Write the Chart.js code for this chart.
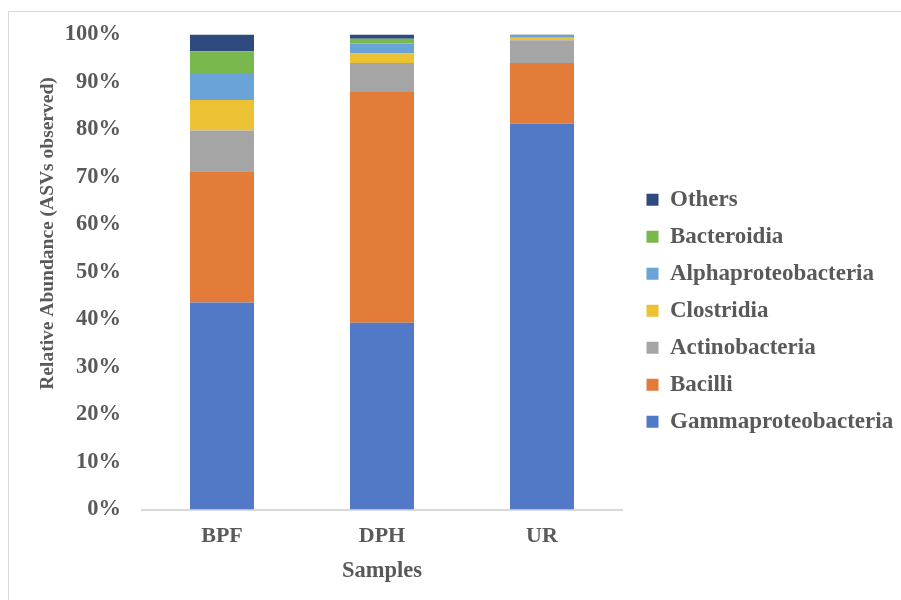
<!DOCTYPE html>
<html>
<head>
<meta charset="utf-8">
<script src="https://cdn.jsdelivr.net/npm/chart.js@4/dist/chart.umd.min.js"></script>
<style>
  html, body { margin: 0; padding: 0; background: #ffffff; }
  #wrap { width: 901px; height: 600px; position: relative; }
</style>
</head>
<body>
<div id="wrap"><canvas id="chart" width="901" height="600"></canvas></div>
<script>
// Sample sites
const samples = ['BPF', 'DPH', 'UR'];

// Relative abundance (%) of each class per sample
const gammaproteobacteria = [43.6, 39.3, 81.2];
const bacilli             = [27.6, 48.6, 12.8];
const actinobacteria      = [8.6, 6.1, 4.8];
const clostridia          = [6.4, 2.0, 0.5];
const alphaproteobacteria = [5.7, 2.1, 0.4];
const bacteroidia         = [4.6, 1.0, 0.2];
const others              = [3.5, 0.9, 0.1];

const yTicks = [0, 10, 20, 30, 40, 50, 60, 70, 80, 90, 100];

const FONT = '"Liberation Serif", "Times New Roman", serif';
const TEXT = '#595959';

const series = [
  { label: 'Gammaproteobacteria', data: gammaproteobacteria, color: '#5279C7' },
  { label: 'Bacilli',             data: bacilli,             color: '#E27C38' },
  { label: 'Actinobacteria',      data: actinobacteria,      color: '#A5A5A5' },
  { label: 'Clostridia',          data: clostridia,          color: '#ECC133' },
  { label: 'Alphaproteobacteria', data: alphaproteobacteria, color: '#6AA3D8' },
  { label: 'Bacteroidia',         data: bacteroidia,         color: '#79B74F' },
  { label: 'Others',              data: others,              color: '#2E4A7E' }
];

// Outer frame, legend placement and the rotated y-axis title
const framePlugin = {
  id: 'frame',
  afterLayout(chart) {
    // sit the legend a little away from the plot and centred on the bars
    const lg = chart.legend;
    const dx = (chart.chartArea.right + 10.5) - lg.left;
    const dy = 2;
    lg.left += dx; lg.right += dx;
    lg.top += dy; lg.bottom += dy;
  },
  beforeDraw(chart) {
    const c = chart.ctx;
    c.save();
    c.fillStyle = '#ffffff';
    c.fillRect(0, 0, chart.width, chart.height);
    c.strokeStyle = '#D9D9D9';
    c.lineWidth = 1;
    c.strokeRect(8.5, 11.5, 2000, 2000);
    c.restore();
  },
  afterDraw(chart) {
    const c = chart.ctx;
    const area = chart.chartArea;
    c.save();
    c.fillStyle = TEXT;
    c.font = 'bold 19.5px ' + FONT;
    c.textAlign = 'center';
    c.textBaseline = 'middle';
    c.translate(48, area.top + 199);
    c.rotate(-Math.PI / 2);
    c.fillText('Relative Abundance (ASVs observed)', 0, 0);
    c.restore();
  }
};

new Chart(document.getElementById('chart'), {
  type: 'bar',
  data: {
    labels: samples,
    datasets: series.map(s => ({
      label: s.label,
      data: s.data,
      backgroundColor: s.color,
      borderWidth: 0,
      barPercentage: 0.4,
      categoryPercentage: 1.0
    }))
  },
  options: {
    responsive: false,
    animation: false,
    layout: { padding: { top: 33, right: 9, bottom: 15.5, left: 0 } },
    plugins: {
      tooltip: { enabled: false },
      legend: {
        position: 'right',
        reverse: true,
        align: 'center',
        maxWidth: 270,
        labels: {
          boxWidth: 12,
          boxHeight: 12,
          padding: 14,
          color: TEXT,
          font: { family: FONT, size: 23, weight: 'bold' }
        }
      }
    },
    scales: {
      x: {
        stacked: true,
        grid: { display: false, drawTicks: false },
        border: { display: true, color: '#D9D9D9', width: 2 },
        ticks: {
          padding: 14,
          color: TEXT,
          font: { family: FONT, size: 22, weight: 'bold' }
        },
        title: {
          display: true,
          text: 'Samples',
          color: TEXT,
          padding: { top: 0, bottom: 0 },
          font: { family: FONT, size: 22.5, weight: 'bold' }
        },
        afterFit(scale) { scale.height = 75; }
      },
      y: {
        stacked: true,
        min: 0,
        max: 100,
        grid: { display: false, drawTicks: false },
        border: { display: false },
        afterBuildTicks(scale) { scale.ticks = yTicks.map(v => ({ value: v })); },
        ticks: {
          padding: 21,
          color: TEXT,
          font: { family: FONT, size: 22.5, weight: 'bold' },
          callback: v => v + '%'
        },
        afterFit(scale) { scale.width = 142; }
      }
    }
  },
  plugins: [framePlugin]
});
</script>
</body>
</html>
